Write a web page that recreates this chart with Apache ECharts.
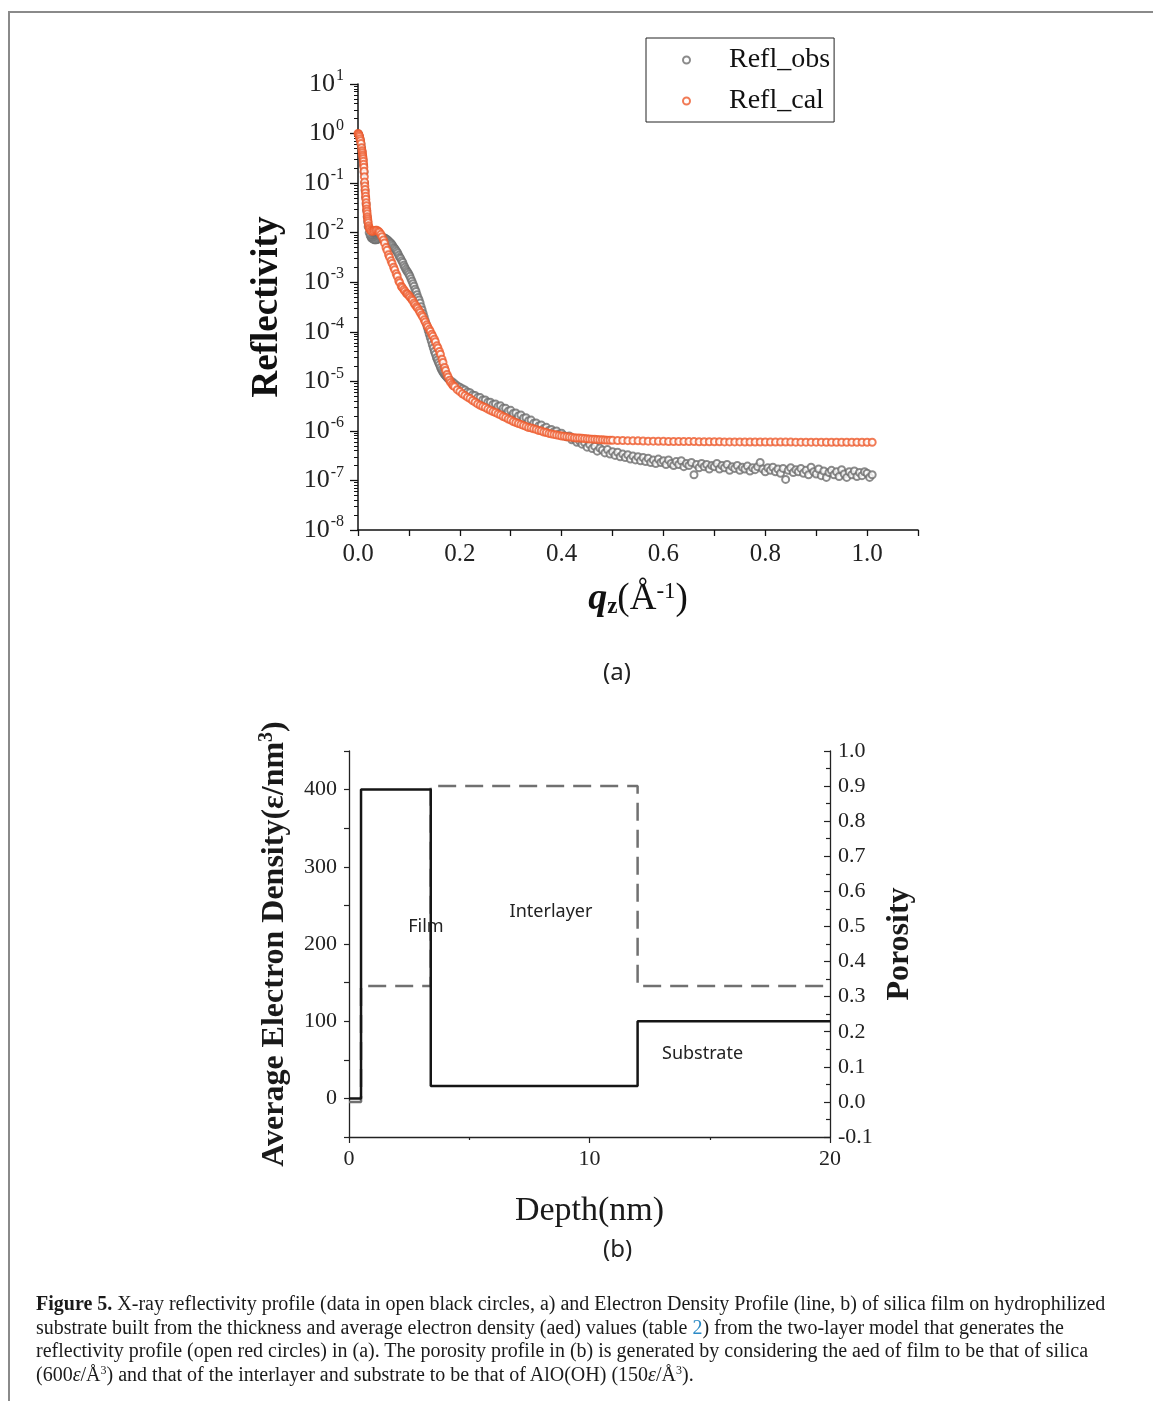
<!DOCTYPE html>
<html>
<head>
<meta charset="utf-8">
<title>Figure 5</title>
<script src="https://cdn.jsdelivr.net/npm/echarts@6/dist/echarts.min.js"></script>
<style>
  html, body { margin: 0; padding: 0; background: #fff; }
  #page { position: relative; width: 1153px; height: 1401px; overflow: hidden; }
  #chart { position: absolute; left: 0; top: 0; width: 1153px; height: 1401px; }
  .frameTop { position: absolute; left: 9px; top: 11px; width: 1144px; height: 0; border-top: 2px solid #8a8a8a; }
  .frameLeft { position: absolute; left: 8px; top: 11px; width: 0; height: 1390px; border-left: 2px solid #8a8a8a; }
  #caption {
    position: absolute; left: 36px; top: 1292px;
    font-family: "Liberation Serif", "DejaVu Serif", serif;
    font-size: 20px; line-height: 23.5px; color: #1a1a1a;
    white-space: nowrap;
  }
  #caption sup { font-size: 12px; line-height: 0; vertical-align: 7px; }
  #caption .ref { color: #2a8ac6; }
</style>
</head>
<body>
<div id="page">
  <div id="chart"></div>
  <div class="frameTop"></div>
  <div class="frameLeft"></div>
  <div id="caption">
    <b>Figure 5.</b> X-ray reflectivity profile (data in open black circles, a) and Electron Density Profile (line, b) of silica film on hydrophilized<br>
    substrate built from the thickness and average electron density (aed) values (table <span class="ref">2</span>) from the two-layer model that generates the<br>
    reflectivity profile (open red circles) in (a). The porosity profile in (b) is generated by considering the aed of film to be that of silica<br>
    (600<i>ε</i>/Å<sup>3</sup>) and that of the interlayer and substrate to be that of AlO(OH) (150<i>ε</i>/Å<sup>3</sup>).
  </div>
</div>
<script>
  // (a) reflectivity: [qz, R]
  const reflObs = [
    [0.001, 0.98], [0.002, 0.91], [0.003, 0.85], [0.004, 0.78], [0.005, 0.69], [0.006, 0.60], [0.007, 0.51],
    [0.008, 0.43], [0.009, 0.355], [0.010, 0.295], [0.011, 0.23], [0.012, 0.166], [0.013, 0.100], [0.014, 0.071],
    [0.015, 0.051], [0.016, 0.038], [0.017, 0.028], [0.018, 0.021], [0.019, 0.0166], [0.020, 0.0132],
    [0.022, 0.0100], [0.024, 0.0087], [0.026, 0.0079], [0.028, 0.0076], [0.030, 0.0074], [0.032, 0.0072],
    [0.034, 0.0072], [0.036, 0.0072], [0.038, 0.0074], [0.040, 0.0074], [0.042, 0.0076], [0.044, 0.0078],
    [0.046, 0.0079], [0.048, 0.0079], [0.050, 0.0079], [0.052, 0.0078], [0.054, 0.0076], [0.056, 0.0074],
    [0.058, 0.0071], [0.060, 0.0068], [0.062, 0.0065], [0.064, 0.0062], [0.066, 0.0059], [0.068, 0.0055],
    [0.070, 0.0051], [0.072, 0.0048], [0.074, 0.0045], [0.076, 0.0042], [0.078, 0.0039], [0.080, 0.0035],
    [0.082, 0.0032], [0.084, 0.0030], [0.086, 0.0027], [0.088, 0.0025], [0.090, 0.0022], [0.092, 0.0020],
    [0.094, 0.00182], [0.096, 0.00168], [0.098, 0.00158], [0.100, 0.00145], [0.102, 0.00132], [0.104, 0.00117],
    [0.106, 0.00105], [0.108, 0.00093], [0.110, 0.00083], [0.112, 0.00072], [0.114, 0.00065], [0.116, 0.00056],
    [0.118, 0.00049], [0.120, 0.00044], [0.122, 0.00038], [0.124, 0.00032], [0.126, 0.000275], [0.128, 0.000234],
    [0.130, 0.000200], [0.132, 0.000170], [0.134, 0.000145], [0.136, 0.000123], [0.138, 0.000105], [0.140, 8.9e-5],
    [0.142, 7.6e-5], [0.144, 6.5e-5], [0.146, 5.5e-5], [0.148, 4.7e-5], [0.150, 4.0e-5], [0.152, 3.5e-5],
    [0.154, 3.0e-5], [0.156, 2.7e-5], [0.158, 2.4e-5], [0.160, 2.15e-5], [0.162, 1.9e-5], [0.164, 1.72e-5],
    [0.166, 1.58e-5], [0.168, 1.47e-5], [0.170, 1.37e-5], [0.172, 1.3e-5], [0.174, 1.23e-5], [0.176, 1.17e-5],
    [0.178, 1.12e-5], [0.180, 1.07e-5], [0.185, 9.8e-6], [0.190, 8.9e-6], [0.195, 8.1e-6], [0.200, 7.6e-6],
    [0.205, 7.1e-6], [0.210, 6.7e-6], [0.215, 6.1e-6], [0.220, 5.9e-6], [0.225, 5.3e-6], [0.230, 5.2e-6],
    [0.235, 4.7e-6], [0.240, 4.7e-6], [0.245, 4.2e-6], [0.250, 4.2e-6], [0.255, 3.8e-6], [0.260, 3.8e-6],
    [0.265, 3.4e-6], [0.270, 3.5e-6], [0.275, 3.1e-6], [0.280, 3.2e-6], [0.285, 2.85e-6], [0.290, 2.85e-6],
    [0.295, 2.5e-6], [0.300, 2.6e-6], [0.305, 2.25e-6], [0.310, 2.3e-6], [0.315, 2.0e-6], [0.320, 2.1e-6],
    [0.325, 1.8e-6], [0.330, 1.85e-6], [0.335, 1.6e-6], [0.340, 1.65e-6], [0.345, 1.42e-6], [0.350, 1.45e-6],
    [0.355, 1.26e-6], [0.360, 1.32e-6], [0.365, 1.12e-6], [0.370, 1.18e-6], [0.375, 1.02e-6], [0.380, 1.07e-6],
    [0.385, 9.6e-7], [0.390, 1.0e-6], [0.395, 8.7e-7], [0.400, 9.0e-7],
    [0.405, 8.0e-7], [0.410, 7.6e-7], [0.415, 7.9e-7], [0.420, 6.6e-7], [0.425, 6.9e-7], [0.430, 5.9e-7],
    [0.435, 6.3e-7], [0.440, 5.4e-7], [0.445, 5.8e-7], [0.450, 4.7e-7], [0.455, 5.3e-7], [0.460, 4.4e-7],
    [0.465, 4.9e-7], [0.470, 3.9e-7], [0.475, 4.5e-7], [0.480, 4.1e-7], [0.485, 3.6e-7], [0.490, 4.2e-7],
    [0.495, 3.4e-7], [0.500, 3.8e-7], [0.505, 3.2e-7], [0.510, 3.7e-7], [0.515, 3.0e-7], [0.520, 3.4e-7],
    [0.525, 2.9e-7], [0.530, 3.3e-7], [0.535, 2.7e-7], [0.540, 3.1e-7], [0.545, 2.6e-7], [0.550, 3.0e-7],
    [0.555, 2.5e-7], [0.560, 2.9e-7], [0.565, 2.4e-7], [0.570, 2.8e-7], [0.575, 2.3e-7], [0.580, 2.6e-7],
    [0.585, 2.2e-7], [0.590, 2.7e-7], [0.595, 2.3e-7], [0.600, 2.5e-7], [0.605, 2.1e-7], [0.610, 2.6e-7],
    [0.615, 2.2e-7], [0.620, 2.0e-7], [0.625, 2.4e-7], [0.630, 2.1e-7], [0.635, 2.5e-7], [0.640, 1.9e-7],
    [0.645, 2.2e-7], [0.650, 2.0e-7], [0.655, 2.3e-7], [0.660, 1.3e-7], [0.665, 2.1e-7], [0.670, 1.8e-7],
    [0.675, 2.2e-7], [0.680, 1.9e-7], [0.685, 2.1e-7], [0.690, 1.7e-7], [0.695, 2.0e-7], [0.700, 1.9e-7],
    [0.705, 2.2e-7], [0.710, 1.7e-7], [0.715, 2.0e-7], [0.720, 1.8e-7], [0.725, 2.1e-7], [0.730, 1.6e-7],
    [0.735, 1.9e-7], [0.740, 1.75e-7], [0.745, 2.0e-7], [0.750, 1.6e-7], [0.755, 1.85e-7], [0.760, 1.7e-7],
    [0.765, 1.95e-7], [0.770, 1.55e-7], [0.775, 1.8e-7], [0.780, 1.65e-7], [0.785, 1.9e-7], [0.790, 2.3e-7],
    [0.795, 1.7e-7], [0.800, 1.5e-7], [0.805, 1.8e-7], [0.810, 1.6e-7], [0.815, 1.85e-7], [0.820, 1.5e-7],
    [0.825, 1.7e-7], [0.830, 1.4e-7], [0.835, 1.75e-7], [0.840, 1.05e-7], [0.845, 1.6e-7], [0.850, 1.8e-7],
    [0.855, 1.45e-7], [0.860, 1.65e-7], [0.865, 1.5e-7], [0.870, 1.75e-7], [0.875, 1.4e-7], [0.880, 1.6e-7],
    [0.885, 1.3e-7], [0.890, 1.85e-7], [0.895, 1.5e-7], [0.900, 1.35e-7], [0.905, 1.7e-7], [0.910, 1.25e-7],
    [0.915, 1.55e-7], [0.920, 1.15e-7], [0.925, 1.45e-7], [0.930, 1.6e-7], [0.935, 1.3e-7], [0.940, 1.5e-7],
    [0.945, 1.2e-7], [0.950, 1.65e-7], [0.955, 1.35e-7], [0.960, 1.15e-7], [0.965, 1.5e-7], [0.970, 1.3e-7],
    [0.975, 1.55e-7], [0.980, 1.2e-7], [0.985, 1.45e-7], [0.990, 1.25e-7], [0.995, 1.5e-7], [1.000, 1.4e-7],
    [1.005, 1.15e-7], [1.010, 1.3e-7]
  ];

  const reflCal = [
    [0.000, 1.0], [0.001, 0.98], [0.002, 0.93], [0.003, 0.87], [0.004, 0.79], [0.005, 0.72], [0.006, 0.63],
    [0.007, 0.52], [0.008, 0.45], [0.0085, 0.41], [0.009, 0.37], [0.0095, 0.34], [0.010, 0.31], [0.0105, 0.275],
    [0.011, 0.24], [0.0115, 0.21], [0.012, 0.174], [0.0125, 0.135], [0.013, 0.105], [0.0135, 0.087],
    [0.014, 0.074], [0.0145, 0.063], [0.015, 0.054], [0.0155, 0.047], [0.016, 0.040], [0.0165, 0.035],
    [0.017, 0.030], [0.0175, 0.027], [0.018, 0.024], [0.0185, 0.021], [0.019, 0.019], [0.0195, 0.0174],
    [0.020, 0.0158], [0.021, 0.0138], [0.022, 0.0126], [0.023, 0.0117], [0.025, 0.0110], [0.027, 0.0107],
    [0.030, 0.0107], [0.032, 0.0110], [0.035, 0.0112], [0.037, 0.0112], [0.040, 0.0107], [0.042, 0.0102],
    [0.045, 0.0093], [0.047, 0.0083], [0.050, 0.0071], [0.052, 0.0062], [0.055, 0.0050], [0.057, 0.0044],
    [0.060, 0.0036], [0.062, 0.0032], [0.065, 0.0027], [0.067, 0.0024], [0.070, 0.0020], [0.072, 0.00178],
    [0.075, 0.00148], [0.077, 0.00132], [0.080, 0.00107], [0.082, 0.00098], [0.085, 0.00083], [0.087, 0.00078],
    [0.090, 0.00071], [0.092, 0.00066], [0.095, 0.00060], [0.097, 0.00058], [0.100, 0.00054], [0.102, 0.00050],
    [0.105, 0.00046], [0.107, 0.00043], [0.110, 0.00038], [0.112, 0.00035], [0.115, 0.00032], [0.117, 0.00030],
    [0.120, 0.00027], [0.122, 0.000245], [0.125, 0.000219], [0.127, 0.000200], [0.130, 0.000174], [0.132, 0.000158],
    [0.135, 0.000138], [0.137, 0.000126], [0.140, 0.000112], [0.142, 0.000102], [0.145, 8.9e-5], [0.147, 8.1e-5],
    [0.150, 7.1e-5], [0.152, 6.3e-5], [0.155, 5.2e-5], [0.157, 4.7e-5], [0.160, 4.0e-5], [0.162, 3.5e-5],
    [0.165, 2.8e-5], [0.167, 2.4e-5], [0.170, 1.9e-5], [0.172, 1.66e-5], [0.175, 1.38e-5], [0.177, 1.23e-5],
    [0.180, 1.05e-5], [0.182, 9.5e-6], [0.185, 8.7e-6], [0.187, 8.1e-6], [0.190, 7.8e-6], [0.195, 6.8e-6],
    [0.200, 6.2e-6], [0.205, 5.6e-6], [0.210, 5.2e-6], [0.215, 4.8e-6], [0.220, 4.5e-6], [0.225, 4.1e-6],
    [0.230, 3.8e-6], [0.235, 3.5e-6], [0.240, 3.3e-6], [0.245, 3.1e-6], [0.250, 2.95e-6], [0.255, 2.75e-6],
    [0.260, 2.6e-6], [0.265, 2.45e-6], [0.270, 2.35e-6], [0.275, 2.2e-6], [0.280, 2.1e-6], [0.285, 1.95e-6],
    [0.290, 1.86e-6], [0.295, 1.74e-6], [0.300, 1.66e-6], [0.305, 1.55e-6], [0.310, 1.48e-6], [0.315, 1.41e-6],
    [0.320, 1.35e-6], [0.325, 1.29e-6], [0.330, 1.23e-6], [0.335, 1.17e-6], [0.340, 1.15e-6], [0.345, 1.10e-6],
    [0.350, 1.07e-6], [0.355, 1.02e-6], [0.360, 1.00e-6], [0.365, 9.5e-7], [0.370, 9.3e-7], [0.375, 8.9e-7],
    [0.380, 8.7e-7], [0.385, 8.5e-7], [0.390, 8.3e-7], [0.395, 8.1e-7], [0.400, 7.9e-7], [0.405, 7.8e-7],
    [0.410, 7.6e-7], [0.415, 7.5e-7], [0.420, 7.4e-7], [0.425, 7.3e-7], [0.430, 7.2e-7], [0.435, 7.15e-7],
    [0.440, 7.1e-7], [0.445, 7.0e-7], [0.450, 6.9e-7], [0.455, 6.85e-7], [0.460, 6.8e-7], [0.465, 6.75e-7],
    [0.470, 6.7e-7], [0.475, 6.65e-7], [0.480, 6.6e-7], [0.485, 6.55e-7], [0.490, 6.5e-7], [0.495, 6.5e-7],
    [0.50, 6.45e-7], [0.51, 6.4e-7], [0.52, 6.4e-7], [0.53, 6.35e-7], [0.54, 6.3e-7], [0.55, 6.3e-7],
    [0.56, 6.25e-7], [0.57, 6.2e-7], [0.58, 6.2e-7], [0.59, 6.15e-7], [0.60, 6.15e-7], [0.61, 6.1e-7],
    [0.62, 6.1e-7], [0.63, 6.1e-7], [0.64, 6.1e-7], [0.65, 6.08e-7], [0.66, 6.08e-7], [0.67, 6.05e-7],
    [0.68, 6.05e-7], [0.69, 6.05e-7], [0.70, 6.03e-7], [0.71, 6.03e-7], [0.72, 6.0e-7], [0.73, 6.0e-7],
    [0.74, 6.0e-7], [0.75, 6.0e-7], [0.76, 5.98e-7], [0.77, 5.98e-7], [0.78, 5.98e-7], [0.79, 5.96e-7],
    [0.80, 5.96e-7], [0.81, 5.95e-7], [0.82, 5.95e-7], [0.83, 5.95e-7], [0.84, 5.94e-7], [0.85, 5.94e-7],
    [0.86, 5.93e-7], [0.87, 5.93e-7], [0.88, 5.93e-7], [0.89, 5.92e-7], [0.90, 5.92e-7], [0.91, 5.92e-7],
    [0.92, 5.91e-7], [0.93, 5.91e-7], [0.94, 5.9e-7], [0.95, 5.9e-7], [0.96, 5.9e-7], [0.97, 5.9e-7],
    [0.98, 5.9e-7], [0.99, 5.9e-7], [1.00, 5.9e-7], [1.01, 5.9e-7]
  ];

  const reflTicks = [1e-8, 1e-7, 1e-6, 1e-5, 1e-4, 1e-3, 1e-2, 1e-1, 1, 10];
  const qLabels = [0, 0.2, 0.4, 0.6, 0.8, 1.0];

  // (b) two-layer model profile
  const layerNames = ['', 'Film', 'Interlayer', 'Substrate'];
  const layerStart = [0, 0.5, 3.4, 12];
  const layerEnd = [0.5, 3.4, 12, 20];
  const density = [0, 400, 16, 100];
  const porosity = [0, 0.33, 0.9, 0.33];
  const densityLabels = [0, 100, 200, 300, 400];
  const densityTicks = [-50, 0, 50, 100, 150, 200, 250, 300, 350, 400, 450];
  // where the layer names sit, in data units [depth, density]
  const layerLabelAt = [null, [3.2, 222], [8.4, 241], [14.7, 58]];

  function stepData(vals) {
    const out = [];
    for (let i = 0; i < vals.length; i++) {
      out.push([layerStart[i], vals[i]]);
      out.push([layerEnd[i], vals[i]]);
    }
    return out;
  }

  const serif = '"Liberation Serif", "DejaVu Serif", serif';
  const sans = '"Noto Sans", "Open Sans", sans-serif';

  const chart = echarts.init(document.getElementById('chart'), null, { renderer: 'canvas' });

  chart.setOption({
    backgroundColor: '#fff',
    animation: false,
    legend: {
      data: ['Refl_obs', 'Refl_cal'],
      orient: 'vertical',
      left: 646,
      top: 38,
      padding: [8, 4, 7, 36],
      itemGap: 13,
      itemWidth: 7,
      itemHeight: 7,
      borderColor: '#222',
      borderWidth: 1,
      icon: 'emptyCircle',
      textStyle: {
        fontFamily: serif,
        fontSize: 28,
        color: '#111',
        padding: [0, 0, 0, 34]
      }
    },
    grid: [
      { left: 358, top: 84, width: 560, height: 446 },
      { left: 349, top: 751, width: 481, height: 386 }
    ],
    xAxis: [
      {
        gridIndex: 0,
        type: 'value',
        min: 0,
        max: 1.1,
        interval: 0.1,
        splitLine: { show: false },
        axisLine: { lineStyle: { color: '#111', width: 1.5 } },
        axisTick: { length: 6, lineStyle: { color: '#111', width: 1.3 } },
        axisLabel: {
          customValues: qLabels,
          margin: 12,
          fontFamily: serif,
          fontSize: 25,
          color: '#222',
          formatter: v => v.toFixed(1)
        },
        name: '{q|q}{z|z}{n|(Å}{s|-1}{n|)}',
        nameLocation: 'middle',
        nameGap: 50,
        nameTextStyle: {
          rich: {
            q: { fontFamily: serif, fontSize: 38, fontStyle: 'italic', fontWeight: 'bold', color: '#111' },
            z: { fontFamily: serif, fontSize: 23, fontWeight: 'bold', color: '#111', padding: [16, 0, 0, 0] },
            n: { fontFamily: serif, fontSize: 37, color: '#111' },
            s: { fontFamily: serif, fontSize: 23, color: '#111', padding: [0, 0, 16, 0] }
          }
        }
      },
      {
        gridIndex: 1,
        type: 'value',
        min: 0,
        max: 20,
        interval: 10,
        splitLine: { show: false },
        axisLine: { onZero: false, lineStyle: { color: '#222', width: 1.3 } },
        axisTick: { length: 6, lineStyle: { color: '#222', width: 1.2 } },
        minorTick: { show: true, splitNumber: 2, length: 3, lineStyle: { color: '#222', width: 1.2 } },
        axisLabel: { margin: 11, fontFamily: serif, fontSize: 22, color: '#222' },
        name: 'Depth(nm)',
        nameLocation: 'middle',
        nameGap: 57,
        nameTextStyle: { fontFamily: serif, fontSize: 34, color: '#1a1a1a' }
      }
    ],
    yAxis: [
      {
        gridIndex: 0,
        type: 'log',
        logBase: 10,
        min: 1e-8,
        max: 10,
        splitNumber: 9,
        splitLine: { show: false },
        axisLine: { lineStyle: { color: '#111', width: 1.5 } },
        axisTick: { length: 8, lineStyle: { color: '#111', width: 1.3 } },
        minorTick: { show: true, splitNumber: 9, length: 4, lineStyle: { color: '#111', width: 1 } },
        axisLabel: {
          customValues: reflTicks,
          margin: 14,
          formatter: v => '{b|10}{s|' + Math.round(Math.log10(v)) + '}',
          rich: {
            b: { fontFamily: serif, fontSize: 26, color: '#222' },
            s: { fontFamily: serif, fontSize: 16, color: '#222', padding: [0, 0, 16, 1] }
          }
        },
        name: 'Reflectivity',
        nameLocation: 'middle',
        nameGap: 72,
        nameTextStyle: { fontFamily: serif, fontSize: 37, fontWeight: 'bold', color: '#111' }
      },
      {
        gridIndex: 1,
        type: 'value',
        min: -50,
        max: 450,
        splitLine: { show: false },
        axisLine: { onZero: false, lineStyle: { color: '#222', width: 1.3 } },
        axisTick: { customValues: densityTicks, length: 5, lineStyle: { color: '#222', width: 1.2 } },
        axisLabel: { customValues: densityLabels, margin: 12, fontFamily: serif, fontSize: 22, color: '#222' },
        name: 'Average Electron Density(ε/nm{s|3})',
        nameLocation: 'middle',
        nameGap: 56,
        nameTextStyle: {
          fontFamily: serif, fontSize: 32, fontWeight: 'bold', color: '#1a1a1a',
          rich: { s: { fontFamily: serif, fontSize: 20, fontWeight: 'bold', color: '#1a1a1a', padding: [0, 0, 16, 0] } }
        }
      },
      {
        gridIndex: 1,
        type: 'value',
        position: 'right',
        min: -0.1,
        max: 1.0,
        interval: 0.1,
        splitLine: { show: false },
        axisLine: { onZero: false, lineStyle: { color: '#222', width: 1.3 } },
        axisTick: { inside: true, length: 6, lineStyle: { color: '#222', width: 1.2 } },
        minorTick: { show: true, splitNumber: 2, length: 4, lineStyle: { color: '#222', width: 1.2 } },
        axisLabel: { margin: 8, fontFamily: serif, fontSize: 22, color: '#222', formatter: v => v.toFixed(1) },
        name: 'Porosity',
        nameLocation: 'middle',
        nameRotate: 90,
        nameGap: 54,
        nameTextStyle: { fontFamily: serif, fontSize: 32, fontWeight: 'bold', color: '#1a1a1a' }
      }
    ],
    series: [
      {
        name: 'Refl_obs',
        type: 'scatter',
        xAxisIndex: 0,
        yAxisIndex: 0,
        symbol: 'emptyCircle',
        symbolSize: 7,
        itemStyle: { color: '#6e6e6e', borderWidth: 1.1 },
        data: reflObs,
        z: 2
      },
      {
        name: 'Refl_cal',
        type: 'scatter',
        xAxisIndex: 0,
        yAxisIndex: 0,
        symbol: 'emptyCircle',
        symbolSize: 7,
        itemStyle: { color: '#ee5a2c', borderWidth: 1.1 },
        data: reflCal,
        z: 3
      },
      {
        name: 'Porosity',
        type: 'line',
        xAxisIndex: 1,
        yAxisIndex: 2,
        showSymbol: false,
        lineStyle: { color: '#707070', width: 2.5, type: [18, 9] },
        data: stepData(porosity),
        z: 2
      },
      {
        name: 'Density',
        type: 'line',
        xAxisIndex: 1,
        yAxisIndex: 1,
        showSymbol: false,
        lineStyle: { color: '#151515', width: 2.5 },
        data: stepData(density),
        z: 3
      }
    ]
  });

  // panel tags and layer names
  const graphics = [
    { type: 'text', left: 603, top: 661, style: { text: '(a)', font: '24px ' + sans, fill: '#222' } },
    { type: 'text', left: 603, top: 1238, style: { text: '(b)', font: '24px ' + sans, fill: '#222' } }
  ];
  layerLabelAt.forEach((pos, i) => {
    if (!pos) return;
    const p = chart.convertToPixel({ xAxisIndex: 1, yAxisIndex: 1 }, pos);
    graphics.push({
      type: 'text', x: p[0], y: p[1],
      style: { text: layerNames[i], font: '18px ' + sans, fill: '#222', align: 'center', verticalAlign: 'middle' }
    });
  });
  chart.setOption({ graphic: graphics });
</script>
</body>
</html>
